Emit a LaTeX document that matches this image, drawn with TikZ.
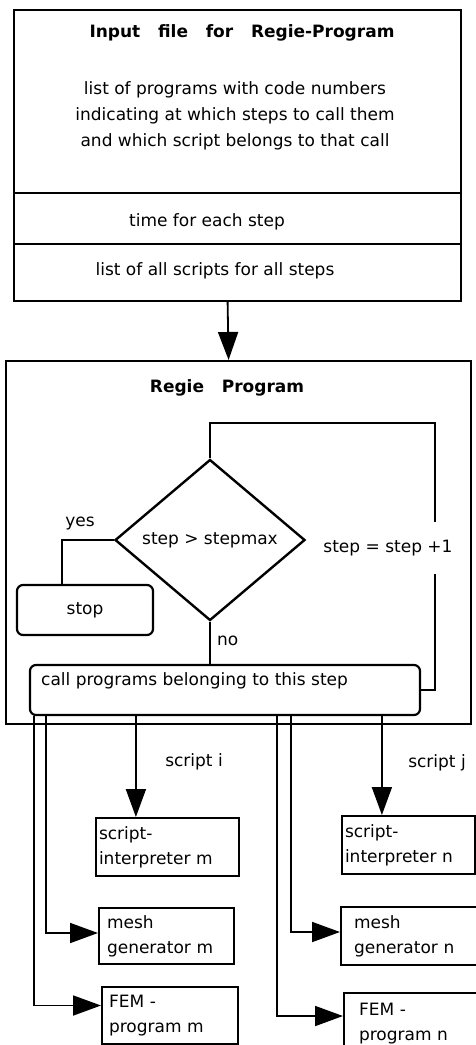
\documentclass[tikz,border=0pt]{standalone}
\usepackage{fontspec}
\setmainfont{DejaVu Sans}
\usetikzlibrary{arrows.meta,shapes.geometric}

\tikzset{
  txt/.style={font=\fontsize{17}{26}\selectfont, inner sep=1pt},
  frame/.style={draw, line width=2.2pt, inner sep=0pt},
  rbox/.style={frame, rounded corners=6pt},
  prog/.style={draw, line width=2pt, anchor=north west, align=left, inner xsep=3pt,
    text width=#1, font=\fontsize{17}{25}\selectfont},
  flow/.style={line width=1.8pt},
  feed/.style={flow, -{Triangle[length=28pt,width=20pt]}},
}

\begin{document}
\begin{tikzpicture}[x=1pt,y=-1pt]
  \useasboundingbox (0,0) rectangle (475,1045);

  % input file
  \node[frame, anchor=north west, minimum width=447pt, minimum height=291pt] (input) at (13,9) {};
  \draw[line width=2.2pt] (13,193) -- (460,193);
  \draw[line width=2.2pt] (13,244) -- (460,244);
  \node[txt, font=\fontsize{17}{26}\selectfont\bfseries] (inputtitle) at (242,33) {Input\ \ \ file\ \ \ for\ \ \ Regie-Program};
  \node[txt, align=center] (inputlist) at (235,116) {list of programs with code numbers\\indicating at which steps to call them\\and which script belongs to that call};
  \node[txt] (steptime) at (207,222) {time for each step};
  \node[txt] (scriptlist) at (215,271) {list of all scripts for all steps};

  % regie program
  \node[frame, anchor=north west, minimum width=465pt, minimum height=363pt] (regie) at (5,360) {};
  \node[txt, font=\fontsize{17}{26}\selectfont\bfseries] (regietitle) at (227,388) {Regie\ \ \ Program};
  \draw[feed] ([xshift=-10pt]input.south) -- ([xshift=-10pt]regie.north);

  \node[frame, line width=2.4pt, diamond, minimum width=190pt, minimum height=161pt, txt] (test) at (210,540) {step > stepmax};
  \node[rbox, minimum width=136pt, minimum height=50pt, txt] (stop) at (85,610) {stop};
  \node[rbox, minimum width=390pt, minimum height=50pt] (call) at (225,690) {};
  \node[txt, anchor=west] (calltxt) at (40,681) {call programs belonging to this step};

  \draw[flow] (test.west) -| ([xshift=-23pt]stop.north);
  \node[txt] (yes) at (80,523) {yes};
  \draw[flow] (test.south) -- (test.south |- call.north);
  \node[txt, anchor=west] (no) at (216,641) {no};

  % loop
  \coordinate (looptop) at (435,423);
  \draw[flow] (call.east) -| (looptop) -| (test.north);
  \node[txt, fill=white, minimum height=52pt] (incr) at (388,548) {step = step +1};

  % called programs
  \node[prog=137pt, minimum height=58pt] (interm) at (95,817) {script-\\interpreter m};
  \node[prog=129pt, minimum height=56pt] (meshm) at (98,907) {\hspace*{5pt}mesh\\\hspace*{5pt}generator m};
  \node[prog=130pt, minimum height=57pt] (femm) at (101,986) {\hspace*{4pt}FEM -\\\hspace*{4pt}program m};
  \node[prog=127pt, minimum height=58pt] (intern) at (341,815) {script-\\interpreter n};
  \node[prog=139pt, minimum height=58pt] (meshn) at (340,906) {\hspace*{10pt}mesh\\\hspace*{10pt}generator n};
  \node[prog=139pt, minimum height=62pt] (femn) at (343,992) {\hspace*{12pt}FEM -\\\hspace*{12pt}program n};

  \coordinate (ci) at ([xshift=107pt]call.south west);
  \coordinate (cj) at ([xshift=353pt]call.south west);
  \draw[feed] (ci) -- (ci |- interm.north);
  \draw[feed] (cj) -- (cj |- intern.north);
  \draw[feed] ([xshift=17pt]call.south west) |- ([yshift=3pt]meshm.west);
  \draw[feed] ([xshift=5pt]call.south west) |- ([yshift=10pt]femm.west);
  \draw[feed] ([xshift=262pt]call.south west) |- ([yshift=4pt]meshn.west);
  \draw[feed] ([xshift=248pt]call.south west) |- ([yshift=8pt]femn.west);
  \node[txt] (scripti) at (194,762) {script i};
  \node[txt] (scriptj) at (437,763) {script j};
\end{tikzpicture}
\end{document}
